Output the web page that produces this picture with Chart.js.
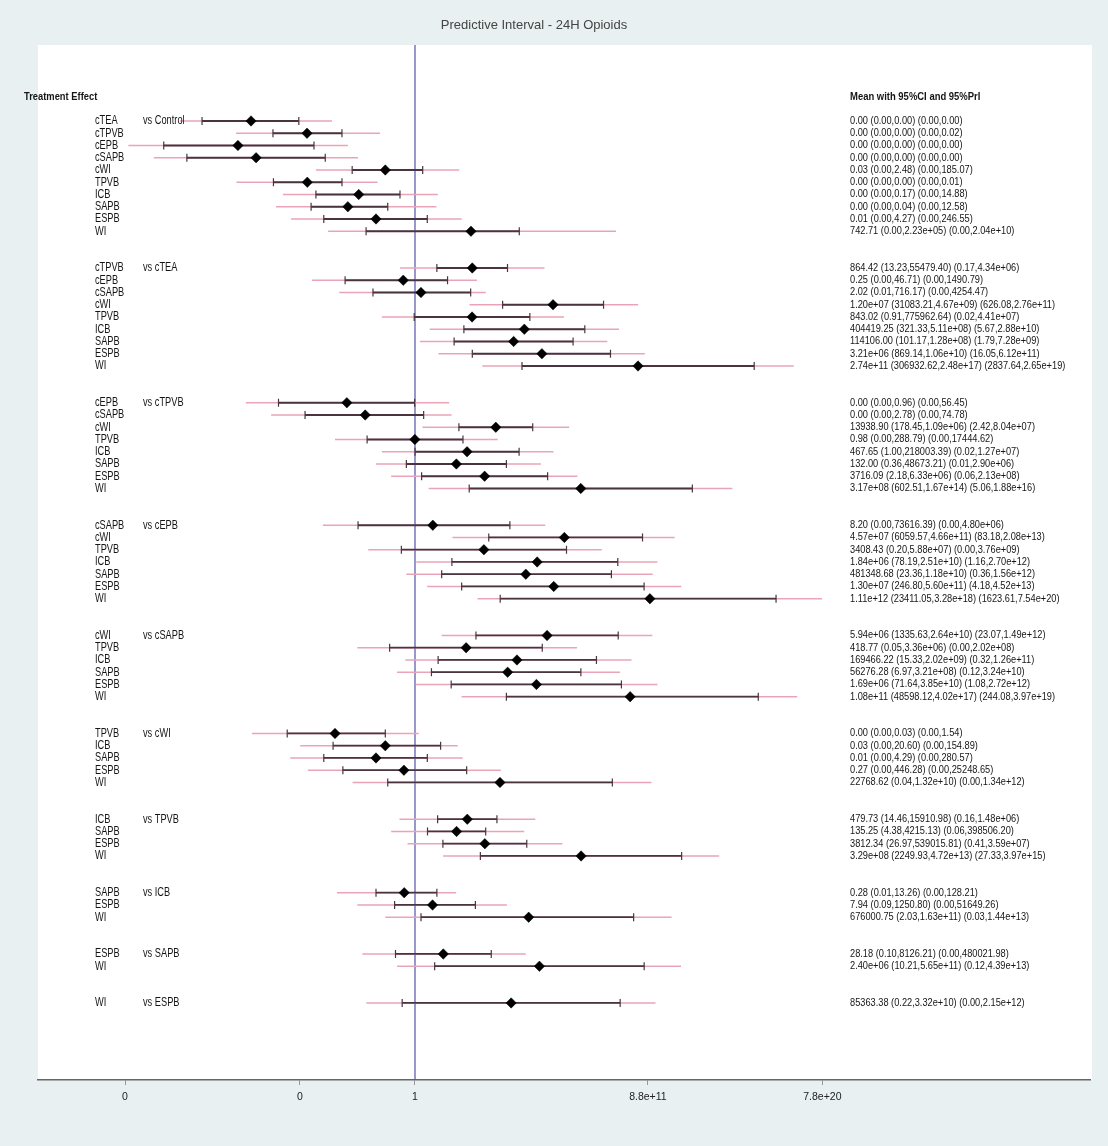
<!DOCTYPE html>
<html>
<head>
<meta charset="utf-8">
<script src="https://cdn.jsdelivr.net/npm/chart.js@4.4.1/dist/chart.umd.min.js"></script>
<style>
  html, body { margin: 0; padding: 0; background: #e9f0f1; }
  #wrap { width: 1108px; height: 1146px; }
</style>
</head>
<body>
<div id="wrap"><canvas id="forest" width="1108" height="1146"></canvas></div>
<script>
// ---- Data -------------------------------------------------------------
const chartTitle = 'Predictive Interval - 24H Opioids';

// comparator of each block ("vs ...")
const comparators = ['Control', 'cTEA', 'cTPVB', 'cEPB', 'cSAPB', 'cWI', 'TPVB', 'ICB', 'SAPB', 'ESPB'];

// treatment of each row and the block it belongs to
const treatments = [
  'cTEA', 'cTPVB', 'cEPB', 'cSAPB', 'cWI', 'TPVB', 'ICB', 'SAPB', 'ESPB', 'WI',
  'cTPVB', 'cEPB', 'cSAPB', 'cWI', 'TPVB', 'ICB', 'SAPB', 'ESPB', 'WI',
  'cEPB', 'cSAPB', 'cWI', 'TPVB', 'ICB', 'SAPB', 'ESPB', 'WI',
  'cSAPB', 'cWI', 'TPVB', 'ICB', 'SAPB', 'ESPB', 'WI',
  'cWI', 'TPVB', 'ICB', 'SAPB', 'ESPB', 'WI',
  'TPVB', 'ICB', 'SAPB', 'ESPB', 'WI',
  'ICB', 'SAPB', 'ESPB', 'WI',
  'SAPB', 'ESPB', 'WI',
  'ESPB', 'WI',
  'WI'
];
const blockOfRow = [
  0, 0, 0, 0, 0, 0, 0, 0, 0, 0,
  1, 1, 1, 1, 1, 1, 1, 1, 1,
  2, 2, 2, 2, 2, 2, 2, 2,
  3, 3, 3, 3, 3, 3, 3,
  4, 4, 4, 4, 4, 4,
  5, 5, 5, 5, 5,
  6, 6, 6, 6,
  7, 7, 7,
  8, 8,
  9
];

// effect estimates (ratio scale)
const means = [
  3.9e-9, 2.9e-6, 8.3e-10, 7.1e-9, 0.03, 3.0e-6, 1.3e-3, 3.6e-4, 0.01, 742.71,
  864.42, 0.25, 2.02, 1.20e7, 843.02, 404419.25, 114106.00, 3.21e6, 2.74e11,
  3.2e-4, 2.8e-3, 13938.90, 0.98, 467.65, 132.00, 3716.09, 3.17e8,
  8.20, 4.57e7, 3408.43, 1.84e6, 481348.68, 1.30e7, 1.11e12,
  5.94e6, 418.77, 169466.22, 56276.28, 1.69e6, 1.08e11,
  7.9e-5, 0.03, 0.01, 0.27, 22768.62,
  479.73, 135.25, 3812.34, 3.29e8,
  0.28, 7.94, 676000.75,
  28.18, 2.40e6,
  85363.38
];
// 95% confidence interval
const ciLow = [
  1.2e-11, 5.2e-8, 1.3e-13, 2.0e-12, 6.0e-4, 5.5e-8, 8.3e-6, 4.7e-6, 2.1e-5, 3.1e-3,
  13.23, 2.6e-4, 0.007, 31083.21, 0.91, 321.33, 101.17, 869.14, 306932.62,
  1.0e-7, 2.3e-6, 178.45, 3.5e-3, 1.00, 0.36, 2.18, 602.51,
  1.2e-3, 6059.57, 0.20, 78.19, 23.36, 246.80, 23411.05,
  1335.63, 0.05, 15.33, 6.97, 71.64, 48598.12,
  2.8e-7, 6.3e-5, 2.1e-5, 2.0e-4, 0.04,
  14.46, 4.38, 26.97, 2249.93,
  0.01, 0.09, 2.03,
  0.10, 10.21,
  0.22
];
const ciHigh = [
  1.1e-6, 1.8e-4, 6.6e-6, 2.5e-5, 2.48, 1.8e-4, 0.17, 0.04, 4.27, 2.23e5,
  55479.40, 46.71, 716.17, 4.67e9, 775962.64, 5.11e8, 1.28e8, 1.06e10, 2.48e17,
  0.96, 2.78, 1.09e6, 288.79, 218003.39, 48673.21, 6.33e6, 1.67e14,
  73616.39, 4.66e11, 5.88e7, 2.51e10, 1.18e10, 5.60e11, 3.28e18,
  2.64e10, 3.36e6, 2.02e9, 3.21e8, 3.85e10, 4.02e17,
  0.03, 20.60, 4.29, 446.28, 1.32e10,
  15910.98, 4215.13, 539015.81, 4.72e13,
  13.26, 1250.80, 1.63e11,
  8126.21, 5.65e11,
  3.32e10
];
// 95% predictive interval
const piLow = [
  8.9e-13, 6.6e-10, 2.0e-15, 4.0e-14, 8.3e-6, 7.0e-10, 1.7e-7, 7.4e-8, 4.4e-7, 3.5e-5,
  0.17, 5.2e-6, 1.3e-4, 626.08, 0.02, 5.67, 1.79, 16.05, 2837.64,
  2.1e-9, 4.2e-8, 2.42, 7.9e-5, 0.02, 0.01, 0.06, 5.06,
  1.9e-5, 83.18, 4.0e-3, 1.16, 0.36, 4.18, 1623.61,
  23.07, 1.1e-3, 0.32, 0.12, 1.08, 244.08,
  4.4e-9, 1.3e-6, 4.0e-7, 3.2e-6, 6.3e-4,
  0.16, 0.06, 0.41, 27.33,
  1.0e-4, 1.1e-3, 0.03,
  2.0e-3, 0.12,
  3.2e-3
];
const piHigh = [
  5.5e-5, 0.016, 3.6e-4, 1.2e-3, 185.07, 0.012, 14.88, 12.58, 246.55, 2.04e10,
  4.34e6, 1490.79, 4254.47, 2.76e11, 4.41e7, 2.88e10, 7.28e9, 6.12e11, 2.65e19,
  56.45, 74.78, 8.04e7, 17444.62, 1.27e7, 2.90e6, 2.13e8, 1.88e16,
  4.80e6, 2.08e13, 3.76e9, 2.70e12, 1.56e12, 4.52e13, 7.54e20,
  1.49e12, 2.02e8, 1.26e11, 3.24e10, 2.72e12, 3.97e19,
  1.54, 154.89, 280.57, 25248.65, 1.34e12,
  1.48e6, 398506.20, 3.59e7, 3.97e15,
  128.21, 51649.26, 1.44e13,
  480021.98, 4.39e13,
  2.15e12
];

// x-axis ticks
const axisTickValues = [1.35e-15, 1.26e-6, 1, 8.8e11, 7.8e20];
const axisTickLabels = ['0', '0', '1', '8.8e+11', '7.8e+20'];

// ---- Layout helpers ---------------------------------------------------
const BLOCK_GAP = 2;          // empty rows between blocks
const rowIndex = [];
(function () {
  let r = 0;
  for (let i = 0; i < treatments.length; i++) {
    if (i > 0 && blockOfRow[i] !== blockOfRow[i - 1]) r += BLOCK_GAP;
    rowIndex.push(r);
    r++;
  }
})();
const Y_MIN = -6.204, Y_MAX = 78.29;

// two decimals, switching to e-notation for large (or round thousand-level) values
function fmt(v) {
  if (v >= 1e6 || (v >= 1e5 && v % 1000 === 0)) {
    return v.toExponential(2).replace(/e([+-])(\d)$/, 'e$10$2');
  }
  return v.toFixed(2);
}

const PI_COLOR = '#e9a4b7';
const CI_COLOR = '#4a3440';
const REF_COLOR = '#5454a8';
const TEXT_COLOR = '#151515';
const SANS = '"Liberation Sans", Arial, sans-serif';

// horizontally condensed text
function squeezed(ctx, text, x, y, sx) {
  ctx.save();
  ctx.translate(x, y);
  ctx.scale(sx, 1);
  ctx.fillText(text, 0, 0);
  ctx.restore();
}

// ---- Datasets ---------------------------------------------------------
const datasets = [];
datasets.push({
  data: [{ x: 1, y: Y_MIN }, { x: 1, y: Y_MAX }],
  showLine: true, borderColor: REF_COLOR, borderWidth: 1.2,
  pointRadius: 0, order: 6
});
for (let i = 0; i < treatments.length; i++) {
  const r = rowIndex[i];
  datasets.push({
    data: [{ x: piLow[i], y: r }, { x: piHigh[i], y: r }],
    showLine: true, borderColor: PI_COLOR, borderWidth: 1.6,
    pointRadius: 0, order: 5
  });
  datasets.push({
    data: [{ x: ciLow[i], y: r }, { x: ciHigh[i], y: r }],
    showLine: true, borderColor: CI_COLOR, borderWidth: 1.8,
    pointRadius: 0, order: 4
  });
}
const capPoints = [];
treatments.forEach((t, i) => {
  capPoints.push({ x: ciLow[i], y: rowIndex[i] });
  capPoints.push({ x: ciHigh[i], y: rowIndex[i] });
});
datasets.push({
  data: capPoints, showLine: false,
  pointStyle: 'line', rotation: 90, pointRadius: 4,
  borderColor: CI_COLOR, borderWidth: 1.2, order: 3
});
datasets.push({
  data: treatments.map((t, i) => ({ x: means[i], y: rowIndex[i] })),
  showLine: false, pointStyle: 'rectRot', pointRadius: 5.2,
  backgroundColor: '#000', borderColor: '#000', borderWidth: 0.5, order: 1
});

// ---- Plugins ----------------------------------------------------------
const panelBackground = {
  id: 'panelBackground',
  beforeDraw(chart) {
    const { ctx, chartArea: a } = chart;
    ctx.save();
    ctx.fillStyle = '#e9f0f1';
    ctx.fillRect(0, 0, chart.width, chart.height);
    ctx.fillStyle = '#ffffff';
    ctx.fillRect(a.left, a.top, a.right - a.left + 2, a.bottom - a.top);
    ctx.restore();
  }
};

const forestText = {
  id: 'forestText',
  afterDraw(chart) {
    const { ctx } = chart;
    const y = chart.scales.y;
    ctx.save();
    // title
    ctx.fillStyle = '#444';
    ctx.font = '13px ' + SANS;
    ctx.textAlign = 'center';
    ctx.textBaseline = 'middle';
    ctx.fillText(chartTitle, 534, 25);

    ctx.textAlign = 'left';
    ctx.fillStyle = TEXT_COLOR;
    ctx.font = 'bold 11px ' + SANS;
    squeezed(ctx, 'Treatment Effect', 24, y.getPixelForValue(-2), 0.85);
    squeezed(ctx, 'Mean with 95%CI and 95%PrI', 850, y.getPixelForValue(-2), 0.86);

    for (let i = 0; i < treatments.length; i++) {
      const py = y.getPixelForValue(rowIndex[i]);
      ctx.font = '12px ' + SANS;
      ctx.fillStyle = TEXT_COLOR;
      squeezed(ctx, treatments[i], 95, py, 0.77);
      if (i === 0 || blockOfRow[i] !== blockOfRow[i - 1]) {
        squeezed(ctx, 'vs ' + comparators[blockOfRow[i]], 143, py, 0.77);
      }
      ctx.font = '10.5px ' + SANS;
      const txt = fmt(means[i]) + ' (' + fmt(ciLow[i]) + ',' + fmt(ciHigh[i]) + ') (' +
                  fmt(piLow[i]) + ',' + fmt(piHigh[i]) + ')';
      squeezed(ctx, txt, 850, py, 0.88);
    }
    ctx.restore();
  }
};

// ---- Chart ------------------------------------------------------------
new Chart(document.getElementById('forest'), {
  type: 'scatter',
  data: { datasets },
  plugins: [panelBackground, forestText],
  options: {
    responsive: false,
    animation: false,
    events: [],
    layout: { padding: { left: 38, right: 18, top: 45, bottom: 42 } },
    plugins: { legend: { display: false }, tooltip: { enabled: false }, title: { display: false } },
    scales: {
      x: {
        type: 'logarithmic',
        min: 4.64e-20,
        max: 4.13e34,
        afterBuildTicks(scale) {
          scale.ticks = axisTickValues.map(v => ({ value: v }));
        },
        afterFit(scale) { scale.height = 24; },
        ticks: {
          autoSkip: false, maxRotation: 0, minRotation: 0, padding: 6,
          color: '#222',
          font: { family: SANS, size: 10.5 },
          callback: (v, i) => axisTickLabels[i]
        },
        grid: { drawOnChartArea: false, drawTicks: true, tickLength: 5, color: '#999', tickWidth: 1 },
        border: { display: true, color: '#666', width: 1.5 }
      },
      y: {
        type: 'linear', min: Y_MIN, max: Y_MAX, reverse: true, display: false
      }
    }
  }
});
</script>
</body>
</html>
